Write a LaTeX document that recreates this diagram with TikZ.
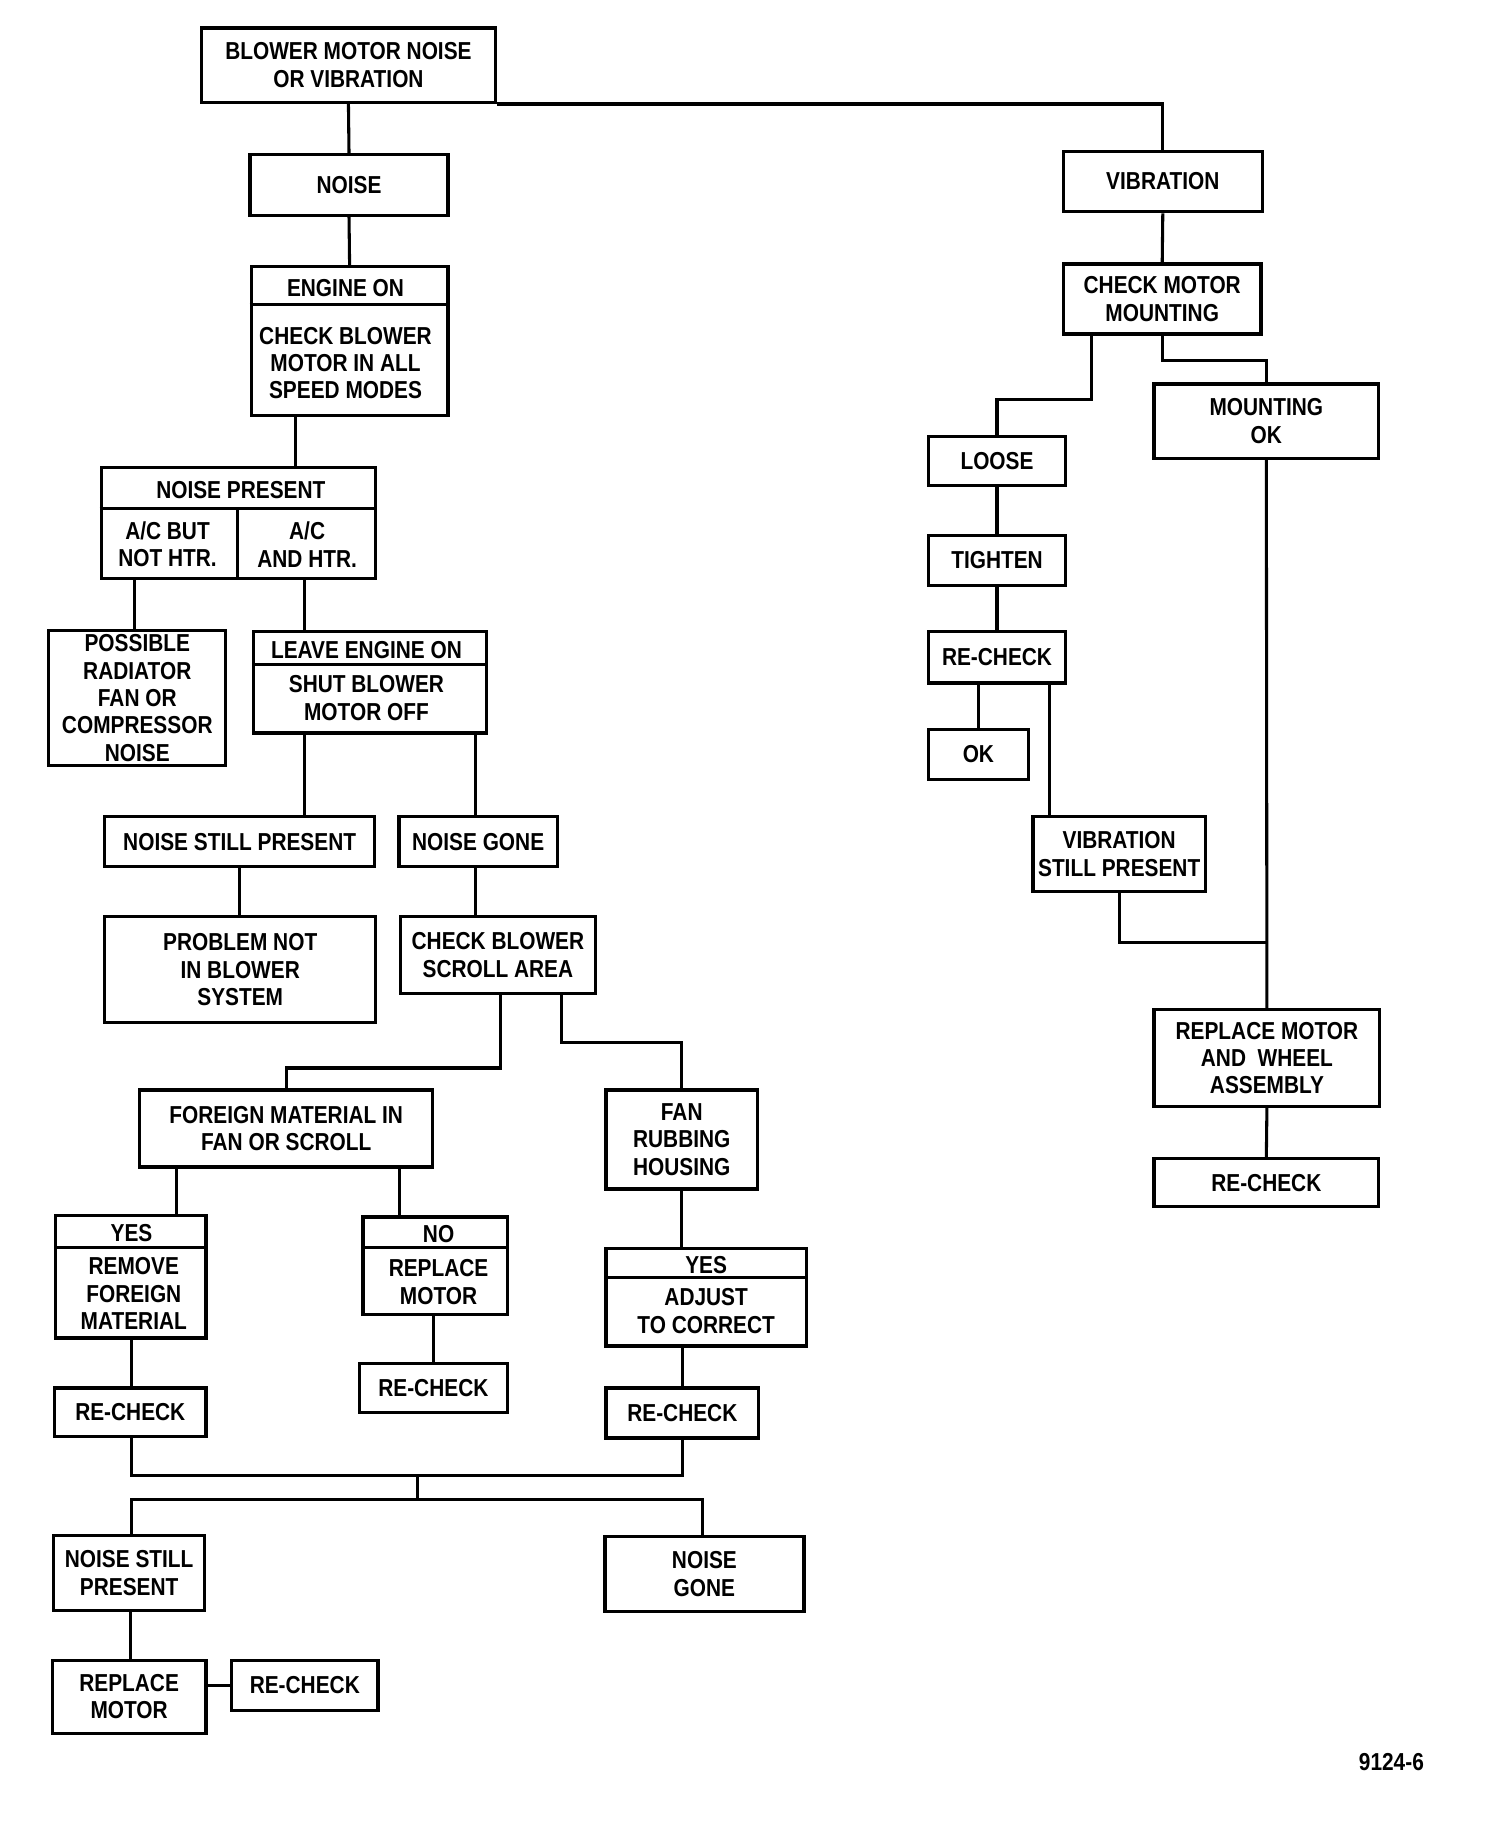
\documentclass[tikz,border=0pt]{standalone}
\usepackage{fontspec}
\setmainfont{Liberation Sans}[FakeStretch=0.85]
\newcommand{\fs}{\bfseries\fontsize{12}{13.4}\selectfont}
\tikzset{
 box/.style={draw, line width=1.6pt, inner sep=0pt, align=center, font=\fs},
 txt/.style={inner sep=0pt, align=center, font=\fs},
 con/.style={line width=1.5pt},
}
\newcommand{\bx}[6]{\node[box, minimum width={(#4-#2)*0.02cm}, minimum height={(#5-#3)*0.02cm}] (#1) at ({(#2+#4)/2},{(#3+#5)/2+1.5}) {#6};}
\begin{document}
\begin{tikzpicture}[x=0.02cm,y=-0.02cm]
\useasboundingbox (0,0) rectangle (1293,1573);
% ---------- boxes ----------
\bx{top}{173}{22.5}{426}{86.5}{BLOWER MOTOR NOISE\\OR VIBRATION}
\bx{noise}{215}{131.5}{385}{183.5}{NOISE}
\bx{vib}{914}{128.5}{1085}{180.5}{VIBRATION}
\bx{cmm}{914}{225.5}{1084}{285.5}{CHECK MOTOR\\MOUNTING}
\bx{mok}{992}{328.5}{1185}{392.5}{MOUNTING\\OK}
\bx{loose}{798}{373.5}{916}{415.5}{LOOSE}
\bx{tight}{798}{458.5}{916}{501.5}{TIGHTEN}
\bx{rcf}{798}{541.5}{916}{585.5}{RE-CHECK}
\bx{ok}{798}{625.5}{884}{668.5}{OK}
\bx{vsp}{888}{700.5}{1036}{764.5}{VIBRATION\\STILL PRESENT}
\bx{rmw}{992}{866.5}{1186}{949.5}{REPLACE MOTOR\\AND~~WHEEL\\ASSEMBLY}
\bx{rcg}{992}{994.5}{1185}{1035.5}{RE-CHECK}

\bx{eng}{216}{227.5}{385}{355.5}{}
\node[txt] (engh) at (297,248) {ENGINE ON};
\node[txt] (engb) at (297,312) {CHECK BLOWER\\MOTOR IN ALL\\SPEED MODES};

\bx{np}{87}{400.5}{323}{495.5}{}
\node[txt] (nph) at (207,421) {NOISE PRESENT};
\node[txt] (npl) at (144,468) {A/C BUT\\NOT HTR.};
\node[txt] (npr) at (264,468) {A/C\\AND HTR.};

\bx{poss}{42}{540.5}{194}{656.5}{POSSIBLE\\RADIATOR\\FAN OR\\COMPRESSOR\\NOISE}

\bx{leave}{218}{541.5}{418}{628.5}{}
\node[txt] (leaveh) at (315,559) {LEAVE ENGINE ON};
\node[txt] (leaveb) at (315,600) {SHUT BLOWER\\MOTOR OFF};

\bx{nsp}{90}{700.5}{322}{743.5}{NOISE STILL PRESENT}
\bx{ng}{343}{700.5}{479}{743.5}{NOISE GONE}
\bx{pn}{90}{786.5}{323}{877.5}{PROBLEM NOT\\IN BLOWER\\SYSTEM}
\bx{cbs}{344}{786.5}{512}{852.5}{CHECK BLOWER\\SCROLL AREA}
\bx{fm}{120}{935.5}{372}{1001.5}{FOREIGN MATERIAL IN\\FAN OR SCROLL}
\bx{fr}{521}{935.5}{651}{1020.5}{FAN\\RUBBING\\HOUSING}

\bx{yr}{48}{1043.5}{177}{1148.5}{}
\node[txt] (yrh) at (113,1060) {YES};
\node[txt] (yrb) at (115,1112) {REMOVE\\FOREIGN\\MATERIAL};

\bx{nr}{312}{1044.5}{436}{1128.5}{}
\node[txt] (nrh) at (377,1061) {NO};
\node[txt] (nrb) at (377,1102) {REPLACE\\MOTOR};

\bx{ya}{521}{1071.5}{693}{1155.5}{}
\node[txt] (yah) at (607,1087) {YES};
\node[txt] (yab) at (607,1127) {ADJUST\\TO CORRECT};

\bx{rca}{47}{1191.5}{177}{1233.5}{RE-CHECK}
\bx{rcb}{309}{1170.5}{436}{1212.5}{RE-CHECK}
\bx{rcc}{521}{1191.5}{652}{1234.5}{RE-CHECK}
\bx{nsp2}{46}{1318.5}{176}{1382.5}{NOISE STILL\\PRESENT}
\bx{ng2}{520}{1319.5}{691}{1383.5}{NOISE\\GONE}
\bx{rm}{45}{1425.5}{177}{1488.5}{REPLACE\\MOTOR}
\bx{rcd}{199}{1425.5}{325}{1468.5}{RE-CHECK}

\node[txt] (fig) at (1196,1515) {9124-6};

% ---------- dividers ----------
\draw[con] (eng.west |- 0,262) -- (eng.east |- 0,262);
\draw[con] (np.west |- 0,437) -- (np.east |- 0,437);
\draw[con] (np.south -| 204,0) -- (204,437);
\draw[con] (leave.west |- 0,571) -- (leave.east |- 0,571);
\draw[con] (yr.west |- 0,1072) -- (yr.east |- 0,1072);
\draw[con] (nr.west |- 0,1072) -- (nr.east |- 0,1072);
\draw[con] (ya.west |- 0,1098) -- (ya.east |- 0,1098);

% ---------- connectors ----------
\draw[con] (top.south) -- (noise.north);
\draw[con] (top.south east) -| (vib.north);
\draw[con] (noise.south) -- (eng.north);
\draw[con] (vib.south) -- (cmm.north);
\draw[con] (cmm.south -| 938,0) -- (938,343) -| (loose.north);
\draw[con] (cmm.south) -- (999,310) -| (mok.north);
\draw[con] (loose.south) -- (tight.north);
\draw[con] (tight.south) -- (rcf.north);
\draw[con] (ok.north) -- (ok.north |- rcf.south);
\draw[con] (rcf.south -| 902,0) -- (vsp.north -| 902,0);
\draw[con] (mok.south) -- (rmw.north);
\draw[con] (vsp.south) |- (rmw.north |- 0,810);
\draw[con] (rmw.south) -- (rcg.north);

\draw[con] (eng.south -| 254,0) -- (np.north -| 254,0);
\draw[con] (np.south -| 116,0) -- (poss.north -| 116,0);
\draw[con] (np.south -| 262,0) -- (leave.north -| 262,0);
\draw[con] (leave.south -| 262,0) -- (nsp.north -| 262,0);
\draw[con] (leave.south -| 409,0) -- (ng.north -| 409,0);
\draw[con] (nsp.south -| 206,0) -- (pn.north -| 206,0);
\draw[con] (ng.south -| 409,0) -- (cbs.north -| 409,0);
\draw[con] (cbs.south -| 430,0) -- (430,918) -| (fm.north);
\draw[con] (cbs.south -| 483,0) -- (483,896) -| (fr.north);
\draw[con] (fm.south -| 152,0) -- (yr.north -| 152,0);
\draw[con] (fm.south -| 343,0) -- (nr.north -| 343,0);
\draw[con] (fr.south) -- (ya.north -| fr.south);
\draw[con] (yr.south -| 113,0) -- (rca.north -| 113,0);
\draw[con] (nr.south -| 373,0) -- (rcb.north -| 373,0);
\draw[con] (ya.south -| 587,0) -- (rcc.north -| 587,0);
\coordinate (j1) at (359,1268);
\coordinate (j2) at (359,1289);
\draw[con] (rca.south -| 113,0) -- (113,1268) -- (587,1268) -- (rcc.south -| 587,0);
\draw[con] (j1) -- (j2);
\draw[con] (nsp2.north -| 113,0) -- (113,1289) -- (604,1289) -- (ng2.north -| 604,0);
\draw[con] (nsp2.south -| 112,0) -- (rm.north -| 112,0);
\draw[con] (rm.east |- rcd.west) -- (rcd.west);
\end{tikzpicture}
\end{document}
